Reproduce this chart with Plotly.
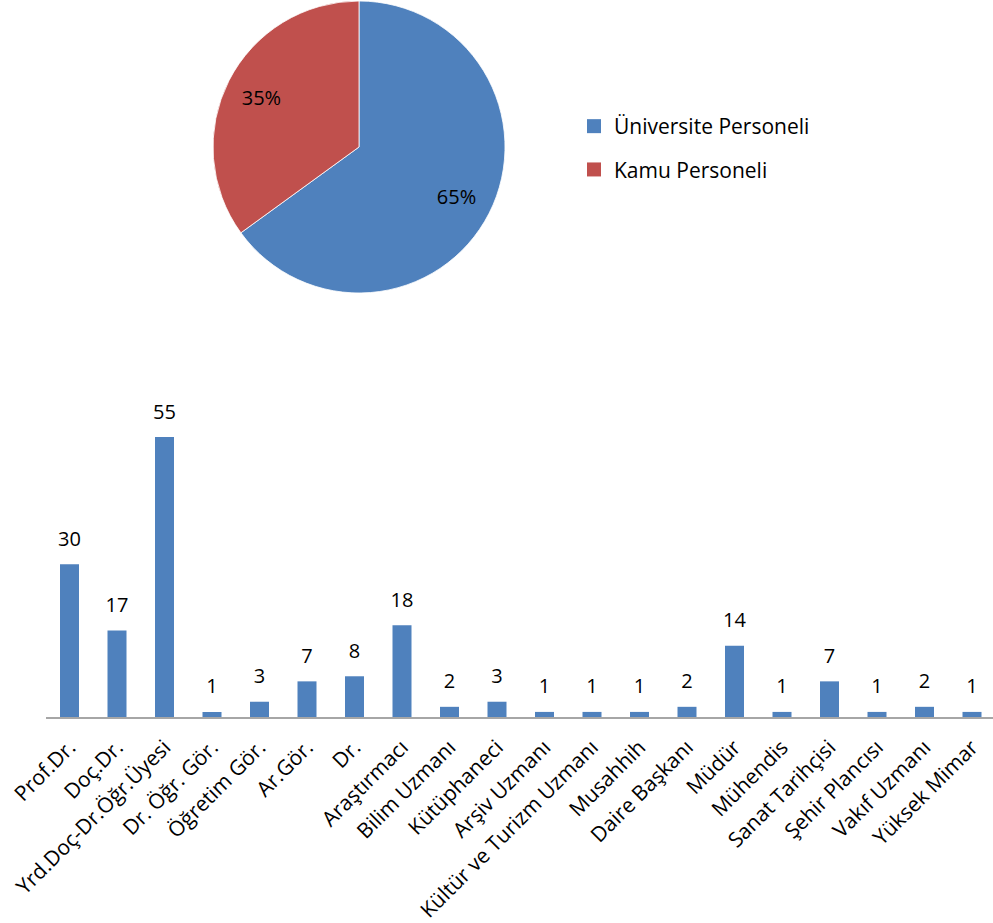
import plotly.graph_objects as go

pie_labels = ["Üniversite Personeli", "Kamu Personeli"]
pie_values = [65, 35]
pie_colors = ["#4F81BD", "#C0504D"]

categories = ["Prof.Dr.", "Doç.Dr.", "Yrd.Doç-Dr.Öğr.Üyesi", "Dr. Öğr. Gör.", "Öğretim Gör.",
              "Ar.Gör.", "Dr.", "Araştırmacı", "Bilim Uzmanı", "Kütüphaneci", "Arşiv Uzmanı",
              "Kültür ve Turizm Uzmanı", "Musahhih", "Daire Başkanı", "Müdür", "Mühendis",
              "Sanat Tarihçisi", "Şehir Plancısı", "Vakıf Uzmanı", "Yüksek Mimar"]
counts = [30, 17, 55, 1, 3, 7, 8, 18, 2, 3, 1, 1, 1, 2, 14, 1, 7, 1, 2, 1]

W, H = 993, 923
FONT = "Open Sans"

fig = go.Figure()

fig.add_trace(go.Bar(
    x=categories, y=counts, marker=dict(color="#4F81BD"),
    showlegend=False, hovertemplate="%{x}: %{y}<extra></extra>",
))
# value labels above the bars (invisible markers give the label its offset)
fig.add_trace(go.Scatter(
    x=categories, y=counts, mode="markers+text", text=[str(c) for c in counts],
    textposition="top center", cliponaxis=False,
    marker=dict(size=20, color="rgba(0,0,0,0)"),
    textfont=dict(family=FONT, size=20, color="black"),
    showlegend=False, hoverinfo="skip",
))

pie_domain = dict(x=[(359 - 146) / W, (359 + 146) / W], y=[1 - 293 / H, 1 - 1 / H])

fig.add_trace(go.Pie(
    labels=pie_labels, values=pie_values, sort=False, direction="clockwise", rotation=0,
    marker=dict(colors=pie_colors, line=dict(color="white", width=0.8)),
    textinfo="none", domain=pie_domain,
    hoverinfo="label+percent", showlegend=False,
))
# transparent ring carrying the percentage labels further out from the centre
fig.add_trace(go.Pie(
    labels=pie_labels, values=pie_values, sort=False, direction="clockwise", rotation=0,
    hole=0.5, marker=dict(colors=["rgba(0,0,0,0)"] * 2, line=dict(width=0)),
    texttemplate="%{percent:.0%}", textposition="inside", insidetextorientation="horizontal",
    textfont=dict(family=FONT, size=20, color="black"),
    domain=pie_domain, hoverinfo="skip", showlegend=False,
))

# legend entries for the pie slices
for lab, col in zip(pie_labels, pie_colors):
    fig.add_trace(go.Scatter(
        x=[None], y=[None], mode="markers", name=lab, legendgroup=lab,
        marker=dict(symbol="square", size=14, color=col), showlegend=True, hoverinfo="skip",
    ))

px_per_unit = 280 / 55
base_px = 717
top_px = 380
left_px = 45.75
cat_px = 47.5
x_hi = -0.5 + (W - left_px) / cat_px

fig.update_layout(
    template="none",
    width=W, height=H, margin=dict(l=0, r=0, t=0, b=0, autoexpand=False),
    paper_bgcolor="white", plot_bgcolor="white",
    font=dict(family=FONT, color="black"),
    bargap=0.6,
    legend=dict(x=574 / W, y=1 - 106 / H, xanchor="left", yanchor="top",
                font=dict(family=FONT, size=21, color="black"),
                bgcolor="rgba(0,0,0,0)", tracegroupgap=13, itemwidth=30),
    xaxis=dict(type="category", domain=[left_px / W, 1.0], range=[-0.5, x_hi], showline=True,
               linecolor="#A6A6A6", linewidth=1.5, automargin=False,
               tickangle=-45, tickfont=dict(family=FONT, size=21, color="black"),
               ticks="", showgrid=False, zeroline=False, ticklabelstandoff=8, fixedrange=True),
    yaxis=dict(domain=[1 - base_px / H, 1 - top_px / H],
               range=[0, (base_px - top_px) / px_per_unit], automargin=False,
               visible=False, showgrid=False, zeroline=False, fixedrange=True),
)

fig.write_html("out.html", config={"displayModeBar": False},
               post_script="document.body.style.margin='0px';document.body.style.overflow='hidden';")
